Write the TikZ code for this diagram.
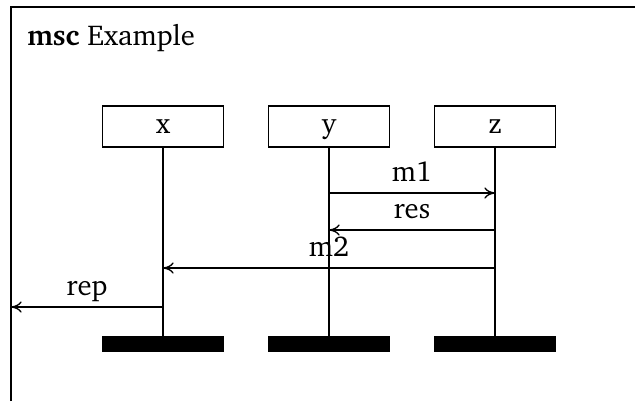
\documentclass[tikz,border=0pt]{standalone}
\usepackage[T1]{fontenc}
\usepackage{charter}
\usetikzlibrary{arrows.meta}
\begin{document}
\begin{tikzpicture}[x=0.75pt,y=-0.75pt,
  every node/.style={font=\fontsize{21.5}{25}\selectfont},
  frameline/.style={line width=1.4pt},
  inst/.style={draw, line width=1pt, minimum width=90.75pt, minimum height=30.75pt, inner sep=0pt, text height=10.3pt, text depth=0pt},
  instend/.style={fill=black, minimum width=91.5pt, minimum height=12pt, inner sep=0pt},
  life/.style={line width=1pt},
  msg/.style={line width=1pt, -{To[length=8pt,width=8.5pt]}},
  msglabel/.style={anchor=base, yshift=8.6pt}]
\useasboundingbox (0,0) rectangle (635,401);
% diagram frame (open to the right and bottom)
\draw[frameline] (11,401) -- (11,7) -- (635,7);
\node[anchor=base west, inner sep=0pt] (title) at (27,45) {\textbf{msc} Example};
% instance heads
\node[inst] (x) at (163,126.5) {x};
\node[inst] (y) at (329,126.5) {y};
\node[inst] (z) at (495,126.5) {z};
% instance ends
\node[instend] (xe) at (163,344) {};
\node[instend] (ye) at (329,344) {};
\node[instend] (ze) at (495,344) {};
% lifelines
\draw[life] (x.south) -- (xe.north);
\draw[life] (y.south) -- (ye.north);
\draw[life] (z.south) -- (ze.north);
% message end points
\coordinate (m1a) at (329,193);
\coordinate (m1b) at (495,193);
\coordinate (resa) at (495,230);
\coordinate (resb) at (329,230);
\coordinate (m2a) at (495,268);
\coordinate (m2b) at (163,268);
\coordinate (repa) at (163,307);
\coordinate (env) at (11,307);
% messages
\draw[msg] (m1a) -- node[msglabel] {m1} (m1b);
\draw[msg] (resa) -- node[msglabel] {res} (resb);
\draw[msg] (m2a) -- node[msglabel] {m2} (m2b);
\draw[msg] (repa) -- node[msglabel] {rep} (env);
\end{tikzpicture}
\end{document}
